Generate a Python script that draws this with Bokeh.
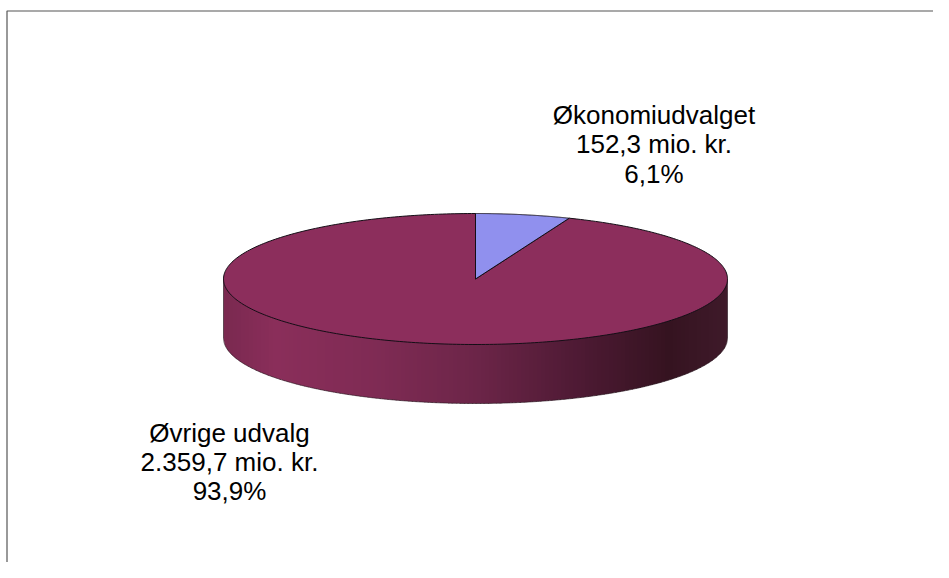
import numpy as np
from bokeh.embed import file_html
from bokeh.models import Range1d
from bokeh.plotting import figure
from bokeh.resources import INLINE
from bokeh.core.properties import value

# --- data ---
categories = ["Økonomiudvalget", "Øvrige udvalg"]
amounts = [152.3, 2359.7]
amount_labels = ["152,3 mio. kr.", "2.359,7 mio. kr."]
share_labels = ["6,1%", "93,9%"]
slice_colors = ["#9090ee", "#8c2e5c"]
side_stops = [0.0, 0.1, 0.3, 0.5, 0.7, 0.88, 1.0]
side_colors = ["#7a2950", "#8a2e5a", "#7f2b54", "#6c2548", "#4e1a34", "#351320", "#3f1a2a"]

# --- layout, in pixels of the picture ---
W, H = 933, 562
CX, CY = 475.0, 278.5      # centre of the pie's top face
RX, RY = 252.0, 65.5       # radii of the top face
DEPTH = 59.0               # height of the cylinder


def ell(theta, dy=0.0):
    return CX + RX * np.sin(theta), CY - RY * np.cos(theta) + dy


def lerp_color(t):
    rgb = np.array([[int(c[i:i + 2], 16) for i in (1, 3, 5)] for c in side_colors])
    vals = [np.interp(t, side_stops, rgb[:, k]) for k in range(3)]
    return "#%02x%02x%02x" % tuple(int(round(v)) for v in vals)


p = figure(width=W, height=H, output_backend="svg", toolbar_location=None,
           x_range=Range1d(0, W), y_range=Range1d(H, 0),
           min_border=0, outline_line_color=None)
p.xaxis.visible = False
p.yaxis.visible = False
p.grid.visible = False
p.background_fill_color = "white"
p.border_fill_color = "white"

# frame of the chart area
p.line([W, 6.5, 6.5], [10.5, 10.5, H], line_color="#555555", line_width=1.2)

# cylinder side: overlapping vertical strips (drawn right to left), then outline
n = 126
px = np.linspace(CX + RX, CX - RX, n + 1)
for xa, xl in zip(px[:-1], px[1:]):
    xr = min(xa + 1.5, CX + RX)
    xx = np.linspace(xl, xr, 6)
    s = np.clip((xx - CX) / RX, -1, 1)
    arc = CY + RY * np.sqrt(1 - s * s)
    t = (0.5 * (xa + xl) - (CX - RX)) / (2 * RX)
    col = lerp_color(t)
    p.patch(np.concatenate([xx, xx[::-1]]).tolist(),
            np.concatenate([arc - 1, (arc + DEPTH)[::-1]]).tolist(),
            fill_color=col, line_color=None)

th = np.linspace(np.pi / 2, 3 * np.pi / 2, 300)
xb, yb = ell(th, DEPTH)
p.line([CX + RX] + xb.tolist() + [CX - RX], [CY] + yb.tolist() + [CY],
       line_color="#2a1a22", line_width=0.8, line_alpha=0.8)

# top face: slices from the values
total = float(sum(amounts))
fracs = np.array(amounts) / total
starts = np.concatenate([[0.0], np.cumsum(fracs)[:-1]]) * 2 * np.pi
ends = np.cumsum(fracs) * 2 * np.pi
for i in [1, 0]:
    th = np.linspace(starts[i], ends[i], 361)
    x, y = ell(th)
    p.patch([CX] + x.tolist() + [CX], [CY] + y.tolist() + [CY],
            fill_color=slice_colors[i], line_color="#140e16", line_width=1.0)

# labels
font = value("Liberation Sans")
size = "26px"
label_pos = [(653.5, 114.5, 29.3), (229, 432, 29.3)]
for i, (lx, ly, lead) in enumerate(label_pos):
    lines = [categories[i], amount_labels[i], share_labels[i]]
    p.text([lx] * 3, [ly + k * lead for k in range(3)], text=lines, text_font=font,
           text_font_size=size, text_color="#000000", text_align="center",
           text_baseline="middle")

open("out.html", "w").write(file_html(p, INLINE))
